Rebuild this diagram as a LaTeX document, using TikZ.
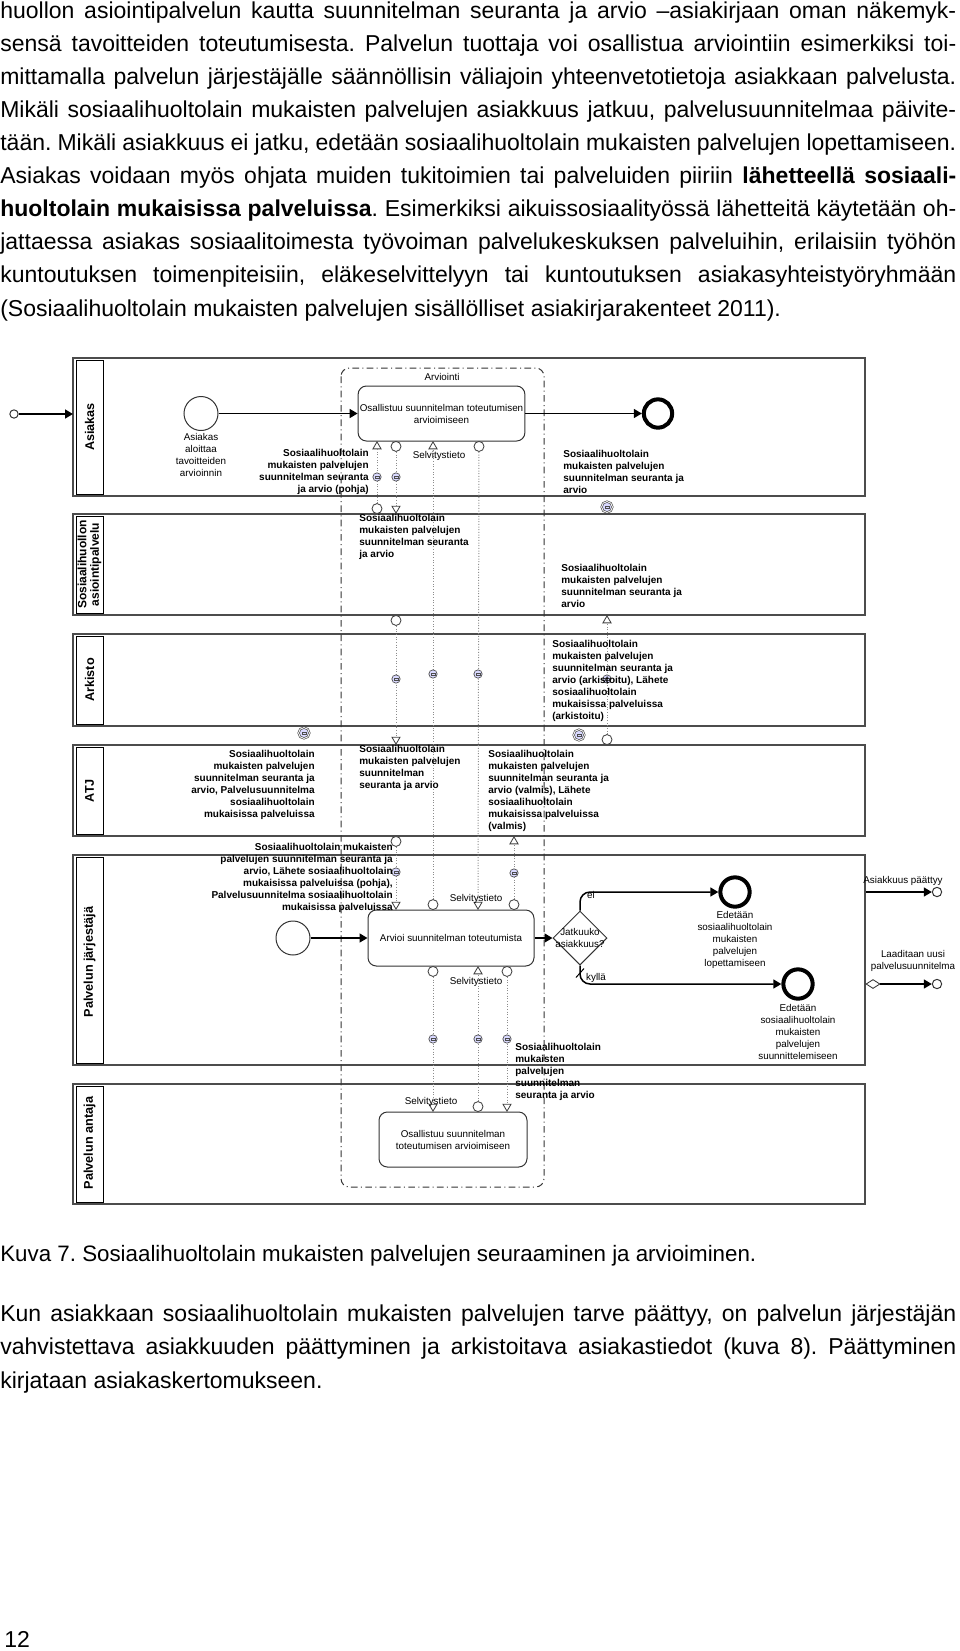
\documentclass[tikz,border=0pt]{standalone}
\usepackage{fontspec}
\setmainfont{Liberation Sans}
\usetikzlibrary{arrows.meta,shapes.geometric}
\frenchspacing

\newlength{\bodywd}
\setlength{\bodywd}{573.6pt}
\newcommand{\jrow}[1]{\hbox to\bodywd{#1}}
\newcommand{\bodysize}{\fontsize{13.8}{19.86}\selectfont}
\newcommand{\captsize}{\fontsize{13.4}{19.86}\selectfont}
\newcommand{\diafont}{\fontsize{5.9}{7.2}\selectfont}
\newcommand{\diabold}{\fontsize{6}{7.2}\selectfont\bfseries}
\newcommand{\headfont}{\fontsize{7.6}{8.4}\selectfont\bfseries}

\tikzset{
    lane/.style={draw=black!70, line width=1pt},
    lanehead/.style={draw=black, line width=0.6pt},
    headlabel/.style={rotate=90, font=\headfont, align=center, inner sep=0},
    arviointi/.style={draw=black!80, line width=0.6pt, rounded corners=5pt,
        dash pattern=on 4pt off 2pt on 0.6pt off 2pt},
    task/.style={draw=black!80, line width=0.6pt, rounded corners=5pt, fill=white,
        align=center, font=\diafont, inner sep=1pt},
    startev/.style={circle, draw=black!80, line width=0.6pt, minimum size=20.4pt, inner sep=0},
    endev/.style={circle, draw=black, line width=2.4pt, minimum size=17pt, inner sep=0},
    smallev/.style={circle, draw=black!80, line width=0.6pt, minimum size=5pt, inner sep=0, fill=white},
    gate/.style={diamond, draw=black!80, line width=0.6pt, minimum width=32.4pt,
        minimum height=32.4pt, inner sep=0},
    seqflow/.style={draw=black, line width=0.9pt, -{Triangle[length=4.8pt,width=5.4pt]}},
    msgflow/.style={draw=black!45, line width=0.6pt, densely dotted},
    portsrc/.style={circle, draw=black!75, fill=white, line width=0.5pt, minimum size=6pt, inner sep=0},
    porttgt/.style={regular polygon, regular polygon sides=3, draw=black!75, fill=white,
        line width=0.5pt, minimum size=5.6pt, inner sep=0},
    envl/.style={circle, draw=black!70, fill=blue!15, line width=0.4pt, minimum size=5pt, inner sep=0,
        path picture={\draw[black!70, line width=0.25pt]
            ([xshift=-1.1pt,yshift=-0.7pt]path picture bounding box.center) rectangle
            ([xshift=1.1pt,yshift=0.7pt]path picture bounding box.center);}},
    msgpair/.style={envl, minimum size=6.5pt, double=white, double distance=0.5pt},
    msgname/.style={font=\diabold, inner sep=0},
    evlabel/.style={font=\diafont, align=center, inner sep=0}
}

\begin{document}
\begin{tikzpicture}[x=0.6pt,y=-0.6pt]
    \useasboundingbox (0,0) rectangle (960,1651);

    \node[anchor=base west, inner sep=0, font=\bodysize] (teksti1) at (0,316) {\vbox{%
        \jrow{huollon asiointipalvelun kautta suunnitelman seuranta ja arvio –asiakirjaan oman näkemyk-}%
        \jrow{sensä tavoitteiden toteutumisesta. Palvelun tuottaja voi osallistua arviointiin esimerkiksi toi-}%
        \jrow{mittamalla palvelun järjestäjälle säännöllisin väliajoin yhteenvetotietoja asiakkaan palvelusta.}%
        \jrow{Mikäli sosiaalihuoltolain mukaisten palvelujen asiakkuus jatkuu, palvelusuunnitelmaa päivite-}%
        \jrow{tään. Mikäli asiakkuus ei jatku, edetään sosiaalihuoltolain mukaisten palvelujen lopettamiseen.}%
        \jrow{Asiakas voidaan myös ohjata muiden tukitoimien tai palveluiden piiriin \textbf{lähetteellä sosiaali-}}%
        \jrow{\textbf{huoltolain mukaisissa palveluissa}. Esimerkiksi aikuissosiaalityössä lähetteitä käytetään oh-}%
        \jrow{jattaessa asiakas sosiaalitoimesta työvoiman palvelukeskuksen palveluihin, erilaisiin työhön}%
        \jrow{kuntoutuksen toimenpiteisiin, eläkeselvittelyyn tai kuntoutuksen asiakasyhteistyöryhmään}%
        \hbox{(Sosiaalihuoltolain mukaisten palvelujen sisällölliset asiakirjarakenteet 2011).}}};

    \draw[lane] (73,358) rectangle (865,496);
    \draw[lanehead] (76,360) rectangle (103,494);
    \draw[lane] (73,514) rectangle (865,615);
    \draw[lanehead] (76,516) rectangle (103,613);
    \draw[lane] (73,634) rectangle (865,726);
    \draw[lanehead] (76,636) rectangle (103,724);
    \draw[lane] (73,745) rectangle (865,836);
    \draw[lanehead] (76,747) rectangle (103,834);
    \draw[lane] (73,855) rectangle (865,1065);
    \draw[lanehead] (76,857) rectangle (103,1063);
    \draw[lane] (73,1084) rectangle (865,1204);
    \draw[lanehead] (76,1086) rectangle (103,1202);

    \begin{scope}[every node/.style={headlabel}]
        \node (hAsiakas) at (89.5,427) {Asiakas};
        \node[font=\fontsize{7.2}{7.4}\selectfont\bfseries] (hAsiointi) at (89.5,564.5)
            {Sosiaalihuollon\\asiointipalvelu};
        \node (hArkisto) at (89.5,680) {Arkisto};
        \node (hAtj) at (89.5,790.5) {ATJ};
        \node (hJarjestaja) at (89.5,962) {Palvelun järjestäjä};
        \node (hAntaja) at (89.5,1143) {Palvelun antaja};
    \end{scope}

    \draw[arviointi] (341,368) rectangle (544,1187);
    \node[evlabel] (arviointiLbl) at (442,377) {Arviointi};

    \node[smallev] (alku) at (14,414) {};
    \coordinate (laneIn) at (73,414);
    \draw[seqflow] (alku) -- (laneIn);

    \node[startev] (startAsiakas) at (201,413.5) {};
    \node[evlabel] (startAsiakasLbl) at (201,455) {Asiakas\\aloittaa\\tavoitteiden\\arvioinnin};
    \node[task, minimum width=99pt, minimum height=33pt] (osallistuu) at (441.5,413.5)
        {Osallistuu suunnitelman toteutumisen\\arvioimiseen};
    \node[endev] (endAsiakas) at (658,413.5) {};
    \draw[seqflow] (startAsiakas) -- (osallistuu);
    \draw[seqflow] (osallistuu) -- (endAsiakas);

    \node[startev] (startJarj) at (293,938) {};
    \node[task, minimum width=99.6pt, minimum height=33.6pt] (arvioi) at (451,938)
        {Arvioi suunnitelman toteutumista};
    \node[gate] (jatkuuko) at (580,938) {};
    \node[evlabel] (jatkuukoTxt) at (580,938) {Jatkuuko\\asiakkuus?};
    \node[endev, minimum size=17.6pt] (endEi) at (735,892) {};
    \node[evlabel] (endEiLbl) at (735,940)
        {Edetään\\sosiaalihuoltolain\\mukaisten\\palvelujen\\lopettamiseen};
    \node[endev, minimum size=17.6pt] (endKylla) at (798,984) {};
    \node[evlabel] (endKyllaLbl) at (798,1032)
        {Edetään\\sosiaalihuoltolain\\mukaisten\\palvelujen\\suunnittelemiseen};
    \draw[seqflow] (startJarj) -- (arvioi);
    \draw[seqflow] (arvioi) -- (jatkuuko);
    \draw[seqflow, rounded corners=6pt] (jatkuuko.north) |- (endEi);
    \draw[seqflow, rounded corners=6pt] (jatkuuko.south) |- (endKylla);
    \draw[line width=0.6pt] (jatkuuko.south) ++(-4,12) -- ++(8,-9);
    \node[evlabel] (eiLbl) at (591,895) {ei};
    \node[evlabel] (kyllaLbl) at (596,978) {kyllä};

    \coordinate (laneOut) at (866,892);
    \node[smallev, minimum size=5.6pt] (loppuPaattyy) at (937,892) {};
    \draw[seqflow] (laneOut) -- (loppuPaattyy);
    \node[evlabel] (paattyyLbl) at (903,881) {Asiakkuus päättyy};
    \node[diamond, draw=black!80, fill=white, line width=0.5pt, minimum width=8.4pt,
        minimum height=5.4pt, inner sep=0] (ehto) at (873,984) {};
    \node[smallev, minimum size=5.6pt] (loppuUusi) at (937,984) {};
    \draw[seqflow] (ehto) -- (loppuUusi);
    \node[evlabel] (uusiLbl) at (913,961) {Laaditaan uusi\\palvelusuunnitelma};

    \node[task, minimum width=88.8pt, minimum height=33pt] (osallistuuAntaja) at (453,1139.5)
        {Osallistuu suunnitelman\\toteutumisen arvioimiseen};

    \begin{scope}[every node/.style={porttgt, anchor=north}]
        \node (pT1a) at (377,441) {};
        \node (pT1c) at (433,441) {};
        \node (pL2d) at (607,615) {};
        \node (pAtjD) at (514,836) {};
        \node (pT2f) at (478,966) {};
    \end{scope}
    \begin{scope}[every node/.style={porttgt, shape border rotate=180, anchor=south}]
        \node (pL2b) at (396,514) {};
        \node (pAtjA) at (396,745) {};
        \node (pT2a) at (396,910) {};
        \node (pT2c) at (478,910) {};
        \node (pT3a) at (433,1112) {};
        \node (pT3c) at (507,1112) {};
    \end{scope}
    \begin{scope}[every node/.style={portsrc, anchor=north}]
        \node (pT1b) at (396,441) {};
        \node (pT1d) at (479,441) {};
        \node (pL2c) at (396,615) {};
        \node (pAtjC) at (396,836) {};
        \node (pT2e) at (433,966) {};
        \node (pT2g) at (507,966) {};
    \end{scope}
    \begin{scope}[every node/.style={portsrc, anchor=south}]
        \node (pL2a) at (377,514) {};
        \node (pAtjB) at (607,745) {};
        \node (pT2b) at (433,910) {};
        \node (pT2d) at (514,910) {};
        \node (pT3b) at (478,1112) {};
    \end{scope}

    \begin{scope}[every edge/.style={msgflow}]
        \path
            (pL2a) edge (pT1a)
            (pT1b) edge (pL2b)
            (pT2b) edge (pT1c)
            (pT1d) edge (pT2c)
            (pL2c) edge (pAtjA)
            (pAtjB) edge (pL2d)
            (pAtjC) edge (pT2a)
            (pT2d) edge (pAtjD)
            (pT2e) edge (pT3a)
            (pT3b) edge (pT2f)
            (pT2g) edge (pT3c);
    \end{scope}

    \begin{scope}[every node/.style={envl}]
        \node (e1) at (377,477) {};
        \node (e2) at (396,477) {};
        \node (e3) at (433,674) {};
        \node (e4) at (478,674) {};
        \node (e5) at (396,679) {};
        \node (e6) at (607,679) {};
        \node (e7) at (396,872) {};
        \node (e8) at (514,873) {};
        \node (e9) at (433,1039) {};
        \node (e10) at (478,1039) {};
        \node (e11) at (507,1039) {};
    \end{scope}
    \begin{scope}[every node/.style={msgpair}]
        \node (m1) at (607,507) {};
        \node (m2) at (304,733) {};
        \node (m3) at (579,735) {};
    \end{scope}

    \begin{scope}[every node/.style={evlabel}]
        \node (selv1) at (439,456) {Selvitystieto};
        \node (selv2) at (476,899) {Selvitystieto};
        \node (selv3) at (476,982) {Selvitystieto};
        \node (selv4) at (431,1102) {Selvitystieto};
    \end{scope}

    \node[msgname, align=right, anchor=east] (nmPohja) at (369,472)
        {Sosiaalihuoltolain\\mukaisten palvelujen\\suunnitelman seuranta\\ja arvio (pohja)};
    \node[msgname, align=left, anchor=west] (nmSuunnitelma) at (359,537)
        {Sosiaalihuoltolain\\mukaisten palvelujen\\suunnitelman seuranta\\ja arvio};
    \node[msgname, align=left, anchor=west] (nmAsiakas) at (563,472)
        {Sosiaalihuoltolain\\mukaisten palvelujen\\suunnitelman seuranta ja\\arvio};
    \node[msgname, align=left, anchor=west] (nmAsiointi) at (561,586)
        {Sosiaalihuoltolain\\mukaisten palvelujen\\suunnitelman seuranta ja\\arvio};
    \node[msgname, align=left, anchor=west] (nmArkisto) at (552,681)
        {Sosiaalihuoltolain\\mukaisten palvelujen\\suunnitelman seuranta ja\\arvio (arkistoitu), Lähete\\sosiaalihuoltolain\\mukaisissa palveluissa\\(arkistoitu)};
    \node[msgname, align=right, anchor=east] (nmAtjVasen) at (315,785)
        {Sosiaalihuoltolain\\mukaisten palvelujen\\suunnitelman seuranta ja\\arvio, Palvelusuunnitelma\\sosiaalihuoltolain\\mukaisissa palveluissa};
    \node[msgname, align=left, anchor=west] (nmAtjKeski) at (359,768)
        {Sosiaalihuoltolain\\mukaisten palvelujen\\suunnitelman\\seuranta ja arvio};
    \node[msgname, align=left, anchor=west] (nmAtjOikea) at (488,791)
        {Sosiaalihuoltolain\\mukaisten palvelujen\\suunnitelman seuranta ja\\arvio (valmis), Lähete\\sosiaalihuoltolain\\mukaisissa palveluissa\\(valmis)};
    \node[msgname, align=right, anchor=east] (nmJarjestaja) at (393,878)
        {Sosiaalihuoltolain mukaisten\\palvelujen suunnitelman seuranta ja\\arvio, Lähete sosiaalihuoltolain\\mukaisissa palveluissa (pohja),\\Palvelusuunnitelma sosiaalihuoltolain\\mukaisissa palveluissa};
    \node[msgname, align=left, anchor=west] (nmAntaja) at (515,1072)
        {Sosiaalihuoltolain\\mukaisten\\palvelujen\\suunnitelman\\seuranta ja arvio};

    \node[anchor=base west, inner sep=0, font=\captsize] (kuvateksti) at (0,1261)
        {Kuva 7. Sosiaalihuoltolain mukaisten palvelujen seuraaminen ja arvioiminen.};
    \node[anchor=base west, inner sep=0, font=\bodysize] (teksti2) at (0,1388) {\vbox{%
        \jrow{Kun asiakkaan sosiaalihuoltolain mukaisten palvelujen tarve päättyy, on palvelun järjestäjän}%
        \jrow{vahvistettava asiakkuuden päättyminen ja arkistoitava asiakastiedot (kuva 8). Päättyminen}%
        \hbox{kirjataan asiakaskertomukseen.}}};
    \node[anchor=base west, inner sep=0, font=\bodysize] (sivunro) at (4,1647) {12};
\end{tikzpicture}
\end{document}
